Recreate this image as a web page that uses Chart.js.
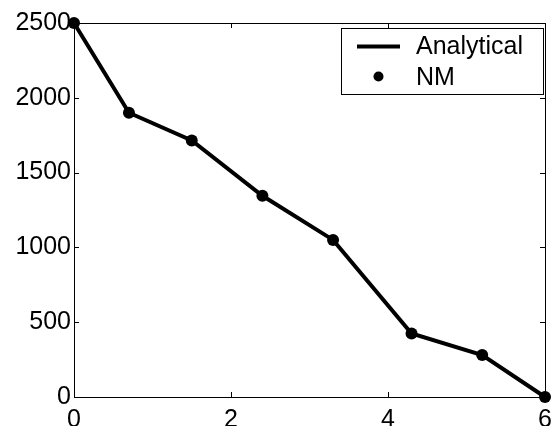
<!DOCTYPE html>
<html>
<head>
<meta charset="utf-8">
<script src="https://cdn.jsdelivr.net/npm/chart.js@4"></script>
<style>
html,body{margin:0;padding:0;background:#fff;}
#wrap{width:551px;height:426px;position:relative;}
</style>
</head>
<body>
<div id="wrap"><canvas id="c" width="551" height="426"></canvas></div>
<script>
const xValues = [0, 0.7, 1.5, 2.4, 3.3, 4.3, 5.2, 6];
const analytical = [2500, 1900, 1715, 1345, 1050, 425, 280, 0];
const nm = [2500, 1900, 1715, 1345, 1050, 425, 280, 0];
const seriesNames = ["Analytical", "NM"];
const xTicks = [0, 2, 4, 6];
const yTicks = [0, 500, 1000, 1500, 2000, 2500];

const FONT = "'Liberation Sans', Arial, sans-serif";
const FSIZE = 25;

const framePlugin = {
  id: 'frame',
  afterDraw(chart) {
    const ctx = chart.ctx;
    const a = chart.chartArea;
    const xs = chart.scales.x, ys = chart.scales.y;
    ctx.save();
    ctx.strokeStyle = '#000';
    ctx.lineWidth = 1;
    ctx.strokeRect(Math.round(a.left) + 0.5, Math.round(a.top) + 0.5,
                   Math.round(a.right - a.left), Math.round(a.bottom - a.top));
    const tl = 5;
    ctx.beginPath();
    xTicks.forEach(v => {
      const px = Math.round(xs.getPixelForValue(v)) + 0.5;
      ctx.moveTo(px, a.bottom); ctx.lineTo(px, a.bottom - tl);
      ctx.moveTo(px, a.top); ctx.lineTo(px, a.top + tl);
    });
    yTicks.forEach(v => {
      const py = Math.round(ys.getPixelForValue(v)) + 0.5;
      ctx.moveTo(a.left, py); ctx.lineTo(a.left + tl, py);
      ctx.moveTo(a.right, py); ctx.lineTo(a.right - tl, py);
    });
    ctx.stroke();
    ctx.restore();
  },
  afterDatasetsDraw(chart) {
    const ctx = chart.ctx;
    ctx.save();
    const bx = 341, by = 28, bw = 202, bh = 66;
    ctx.fillStyle = '#fff';
    ctx.fillRect(bx, by, bw, bh);
    ctx.strokeStyle = '#000';
    ctx.lineWidth = 1;
    ctx.strokeRect(bx + 0.5, by + 0.5, bw, bh);
    ctx.lineWidth = 4;
    ctx.beginPath();
    ctx.moveTo(357, 46.5); ctx.lineTo(400, 46.5);
    ctx.stroke();
    ctx.fillStyle = '#000';
    ctx.beginPath();
    ctx.arc(378.5, 76.5, 5, 0, Math.PI * 2);
    ctx.fill();
    ctx.font = FSIZE + 'px ' + FONT;
    ctx.textBaseline = 'middle';
    ctx.textAlign = 'left';
    ctx.fillText(chart.data.datasets[0].label, 416, 47);
    ctx.fillText(chart.data.datasets[1].label, 416, 78);
    ctx.restore();
  }
};

new Chart(document.getElementById('c'), {
  type: 'scatter',
  data: {
    datasets: [
      {
        label: seriesNames[0],
        data: xValues.map((x, i) => ({x: x, y: analytical[i]})),
        showLine: true,
        borderColor: '#000',
        borderWidth: 4,
        pointRadius: 0,
        pointHoverRadius: 0,
        clip: false,
        order: 2
      },
      {
        label: seriesNames[1],
        data: xValues.map((x, i) => ({x: x, y: nm[i]})),
        showLine: false,
        backgroundColor: '#000',
        borderColor: '#000',
        pointRadius: 6,
        pointBorderWidth: 0,
        clip: false,
        order: 1
      }
    ]
  },
  options: {
    responsive: false,
    animation: false,
    devicePixelRatio: 1,
    layout: { padding: { top: 23, right: 2, left: 0, bottom: 0 } },
    plugins: { legend: { display: false }, tooltip: { enabled: false } },
    scales: {
      x: {
        type: 'linear', min: 0, max: 6,
        grid: { display: false, drawTicks: false },
        border: { display: false },
        afterBuildTicks: s => { s.ticks = xTicks.map(v => ({value: v})); },
        ticks: { color: '#000', font: { family: FONT, size: FSIZE }, padding: 8, maxRotation: 0, autoSkip: false,
                 callback: v => String(v) },
        afterFit: s => { s.height = 29; s.paddingLeft = 0; s.paddingRight = 0; }
      },
      y: {
        type: 'linear', min: 0, max: 2500,
        grid: { display: false, drawTicks: false },
        border: { display: false },
        afterBuildTicks: s => { s.ticks = yTicks.map(v => ({value: v})); },
        ticks: { color: '#000', font: { family: FONT, size: FSIZE }, padding: 3, autoSkip: false,
                 callback: v => String(v) },
        afterFit: s => { s.width = 74; s.paddingTop = 0; s.paddingBottom = 0; }
      }
    }
  },
  plugins: [framePlugin]
});
</script>
</body>
</html>
